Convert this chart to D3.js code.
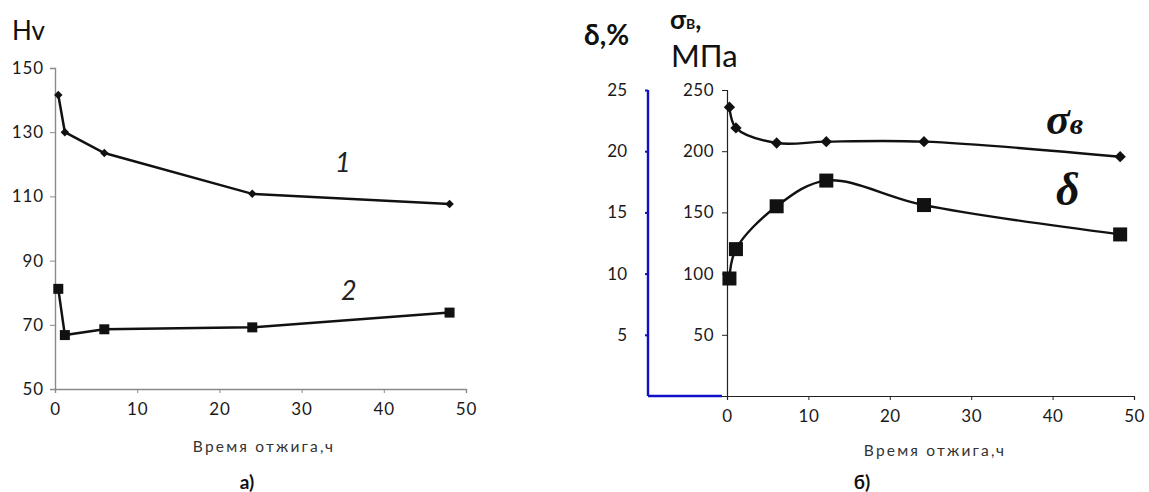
<!DOCTYPE html>
<html><head><meta charset="utf-8">
<script src="https://cdn.jsdelivr.net/npm/d3@7"></script>
<style>
body{margin:0;background:#fff;}
svg text{font-family:Lato,"Open Sans",sans-serif;}
</style></head>
<body>
<svg id="c" width="1149" height="492"></svg>
<script>
// ---- data ----
const timeA = [0.4, 1.2, 6, 24, 48];
const hv1 = [141.6, 130, 123.5, 110.8, 107.6];
const hv2 = [81.2, 66.8, 68.6, 69.2, 73.8];
const timeB = [0.3, 1.1, 6.1, 12.2, 24.2, 48.3];
const sigmaB = [236, 219, 206.7, 207.8, 207.8, 195.5];
const delta = [9.6, 12, 15.5, 17.6, 15.6, 13.2];
const xTicks = [0, 10, 20, 30, 40, 50];
const hvTicks = [50, 70, 90, 110, 130, 150];
const sigmaTicks = [50, 100, 150, 200, 250];
const deltaTicks = [5, 10, 15, 20, 25];

const svg = d3.select("#c");

// ---- chart a ----
const xa = d3.scaleLinear().domain([0, 50]).range([55, 466]);
const ya = d3.scaleLinear().domain([50, 150]).range([389, 68]);

const gxa = svg.append("g").attr("transform", "translate(0,389)")
  .call(d3.axisBottom(xa).tickValues(xTicks).tickSize(4).tickPadding(10));
const gya = svg.append("g").attr("transform", "translate(55,0)")
  .call(d3.axisLeft(ya).tickValues(hvTicks).tickSize(5).tickPadding(6));
[gxa, gya].forEach(g => {
  g.select(".domain").attr("stroke", "#8a8a8a").attr("stroke-width", 1.4);
  g.selectAll(".tick line").attr("stroke", "#8a8a8a");
  g.selectAll(".tick text").attr("fill", "#1a1a1a").style("font-size", "17px").style("letter-spacing", "0.9px");
});

const lineA = d3.line().x(d => xa(d[0])).y(d => ya(d[1]));
const s1 = timeA.map((t, i) => [t, hv1[i]]);
const s2 = timeA.map((t, i) => [t, hv2[i]]);
svg.append("path").attr("d", lineA(s1)).attr("fill", "none").attr("stroke", "#111").attr("stroke-width", 2.5);
svg.append("path").attr("d", lineA(s2)).attr("fill", "none").attr("stroke", "#111").attr("stroke-width", 2.5);
svg.selectAll(".d1").data(s1).enter().append("rect")
  .attr("x", -3).attr("y", -3).attr("width", 6).attr("height", 6)
  .attr("transform", d => `translate(${xa(d[0])},${ya(d[1])}) rotate(45)`).attr("fill", "#111");
svg.selectAll(".s2").data(s2).enter().append("rect")
  .attr("x", d => xa(d[0]) - 5).attr("y", d => ya(d[1]) - 5)
  .attr("width", 10).attr("height", 10).attr("fill", "#111");

svg.append("text").attr("x", 12).attr("y", 40).text("Hv").style("font-size", "26px").attr("fill", "#111");
svg.append("text").attr("x", 335).attr("y", 172).text("1").style("font-size", "27px").style("font-style", "italic").attr("fill", "#222");
svg.append("text").attr("x", 341).attr("y", 300).text("2").style("font-size", "27px").style("font-style", "italic").attr("fill", "#222");
svg.append("text").attr("x", 264).attr("y", 452).attr("text-anchor", "middle").text("Время отжига,ч")
  .style("font-size", "15.5px").style("letter-spacing", "2.2px").attr("fill", "#333");
svg.append("text").attr("x", 247).attr("y", 489).attr("text-anchor", "middle").text("а)")
  .style("font-size", "19px").style("font-weight", "bold").attr("fill", "#111");

// ---- chart b ----
const xb = d3.scaleLinear().domain([0, 50]).range([727, 1134]);
const yb = d3.scaleLinear().domain([0, 250]).range([396, 90]);
const yd = d3.scaleLinear().domain([0, 25]).range([396, 90]);

// blue axis
svg.append("line").attr("x1", 648).attr("x2", 648).attr("y1", yd(25)).attr("y2", yd(0))
  .attr("stroke", "#1010c8").attr("stroke-width", 2.4);
svg.append("line").attr("x1", 648).attr("x2", 722).attr("y1", yd(0)).attr("y2", yd(0))
  .attr("stroke", "#1010c8").attr("stroke-width", 2.4);
const gyd = svg.append("g").attr("transform", "translate(648,0)")
  .call(d3.axisLeft(yd).tickValues(deltaTicks).tickSize(3).tickPadding(18));
gyd.select(".domain").remove();
gyd.selectAll(".tick line").attr("stroke", "#1010c8").attr("stroke-width", 2);
gyd.selectAll(".tick text").attr("fill", "#1a1a1a").style("font-size", "17px");

const gxb = svg.append("g").attr("transform", "translate(0,396)")
  .call(d3.axisBottom(xb).tickValues(xTicks).tickSize(4).tickPadding(10));
const gyb = svg.append("g").attr("transform", "translate(727,0)")
  .call(d3.axisLeft(yb).tickValues(sigmaTicks).tickSize(5).tickPadding(8));
[gxb, gyb].forEach(g => {
  g.select(".domain").attr("stroke", "#222").attr("stroke-width", 1.2);
  g.selectAll(".tick line").attr("stroke", "#222");
  g.selectAll(".tick text").attr("fill", "#1a1a1a").style("font-size", "17px").style("letter-spacing", "0.5px");
});

const sS = timeB.map((t, i) => [t, sigmaB[i]]);
const sD = timeB.map((t, i) => [t, delta[i]]);
const lineS = d3.line().x(d => xb(d[0])).y(d => yb(d[1])).curve(d3.curveCatmullRom.alpha(0.5));
const lineD = d3.line().x(d => xb(d[0])).y(d => yd(d[1])).curve(d3.curveCatmullRom.alpha(0.5));
svg.append("path").attr("d", lineS(sS)).attr("fill", "none").attr("stroke", "#111").attr("stroke-width", 2.4);
svg.append("path").attr("d", lineD(sD)).attr("fill", "none").attr("stroke", "#111").attr("stroke-width", 2.4);
svg.selectAll(".dS").data(sS).enter().append("rect")
  .attr("x", -4).attr("y", -4).attr("width", 8).attr("height", 8)
  .attr("transform", d => `translate(${xb(d[0])},${yb(d[1])}) rotate(45)`).attr("fill", "#111");
svg.selectAll(".sD").data(sD).enter().append("rect")
  .attr("x", d => xb(d[0]) - 7).attr("y", d => yd(d[1]) - 7)
  .attr("width", 14).attr("height", 14).attr("fill", "#111");

svg.append("text").attr("x", 584).attr("y", 45).text("δ,%").style("font-size", "28px").style("font-weight", "bold").attr("fill", "#111");
const sl = svg.append("text").attr("x", 670).attr("y", 29).style("font-weight", "bold").attr("fill", "#111");
sl.append("tspan").text("σ").style("font-size", "26px");
sl.append("tspan").text("В").style("font-size", "14px");
sl.append("tspan").text(",").style("font-size", "26px");
svg.append("text").attr("x", 671).attr("y", 67).text("МПа").style("font-size", "31px").attr("fill", "#111");

const sb = svg.append("text").attr("x", 1046).attr("y", 134).attr("fill", "#111")
  .style("font-family", "'Liberation Serif','DejaVu Serif',serif").style("font-style", "italic").style("font-weight", "bold");
sb.append("tspan").text("σ").style("font-size", "44px");
sb.append("tspan").text("в").style("font-size", "30px");
svg.append("text").attr("x", 1056).attr("y", 205).text("δ").attr("fill", "#111")
  .style("font-family", "'Liberation Serif','DejaVu Serif',serif").style("font-style", "italic").style("font-weight", "bold").style("font-size", "46px");

svg.append("text").attr("x", 935).attr("y", 456).attr("text-anchor", "middle").text("Время отжига,ч")
  .style("font-size", "15.5px").style("letter-spacing", "2.2px").attr("fill", "#333");
svg.append("text").attr("x", 862).attr("y", 489).attr("text-anchor", "middle").text("б)")
  .style("font-size", "19px").style("font-weight", "bold").attr("fill", "#111");
</script>
</body></html>
